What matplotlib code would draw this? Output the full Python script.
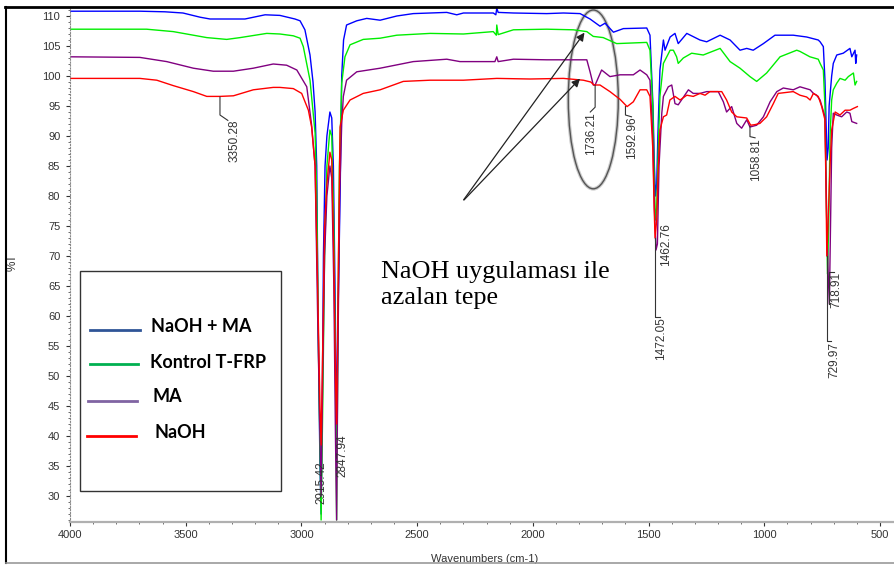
import numpy as np
import matplotlib.pyplot as plt
from matplotlib.patches import Ellipse, Rectangle
from matplotlib.lines import Line2D
from matplotlib.ticker import MultipleLocator

plt.rcParams['font.family'] = ['Liberation Sans', 'DejaVu Sans']

# FTIR spectra: (wavenumber cm-1, %T)
naoh_ma = np.array([
    (4000, 110.8), (3698, 110.8), (3590, 110.7), (3512, 110.5), (3438, 109.8), (3395, 109.5),
    (3244, 109.5), (3157, 110.2), (3093, 110.1), (3028, 109.5), (3006, 109.2), (2985, 107.7),
    (2963, 103.5), (2950, 99.0), (2941, 94.0), (2934, 85.0), (2928, 60.0), (2920, 35.0),
    (2915, 27.0), (2910, 45.0), (2905, 70.0), (2898, 85.0), (2890, 90.0), (2877, 94.0),
    (2869, 93.0), (2862, 85.0), (2855, 65.0), (2848, 41.0), (2842, 60.0), (2833, 80.0),
    (2826, 100.0), (2818, 106.0), (2805, 108.5), (2761, 109.2), (2718, 109.6), (2660, 109.3),
    (2588, 110.0), (2517, 110.4), (2444, 110.5), (2372, 110.6), (2329, 110.2), (2300, 110.5),
    (2171, 110.5), (2160, 110.2), (2156, 111.3), (2150, 110.6), (2084, 110.5), (1940, 110.4),
    (1868, 110.5), (1796, 110.4), (1753, 109.5), (1710, 108.3), (1688, 108.8), (1652, 107.3),
    (1609, 107.9), (1508, 108.0), (1494, 106.8), (1481, 95.0), (1475, 85.0), (1470, 80.0),
    (1465, 82.0), (1460, 90.0), (1451, 101.0), (1436, 106.0), (1429, 104.3), (1407, 106.5),
    (1386, 107.1), (1372, 105.4), (1335, 107.1), (1278, 106.0), (1249, 105.7), (1191, 106.8),
    (1148, 106.0), (1105, 104.3), (1076, 104.6), (1048, 104.3), (1004, 105.4), (954, 106.8),
    (875, 106.8), (817, 106.5), (767, 106.0), (759, 105.7), (745, 104.9), (738, 99.3),
    (733, 92.0), (729, 86.0), (724, 88.0), (720, 95.0), (709, 100.0), (702, 102.1),
    (687, 103.5), (659, 103.8), (630, 104.6), (622, 103.2), (608, 104.3), (605, 102.1),
    (601, 103.5),
])

kontrol = np.array([
    (4000, 107.8), (3669, 107.8), (3554, 107.4), (3496, 107.0), (3409, 106.4), (3323, 106.1),
    (3265, 106.4), (3150, 107.1), (3093, 107.0), (3035, 106.7), (3006, 106.3), (2992, 104.9),
    (2963, 99.3), (2941, 90.5), (2934, 80.0), (2925, 50.0), (2915, 26.0), (2908, 45.0),
    (2900, 70.0), (2890, 85.0), (2877, 91.0), (2869, 90.0), (2860, 75.0), (2853, 50.0),
    (2848, 26.0), (2842, 60.0), (2836, 85.0), (2826, 98.8), (2812, 103.2), (2790, 105.2),
    (2733, 106.1), (2660, 106.3), (2588, 106.8), (2444, 107.1), (2300, 107.0), (2171, 107.4),
    (2158, 106.8), (2156, 108.5), (2150, 106.9), (2084, 107.7), (1940, 107.8), (1825, 107.7),
    (1767, 107.4), (1739, 106.6), (1696, 106.4), (1638, 105.4), (1508, 105.6), (1494, 104.3),
    (1482, 95.0), (1475, 82.0), (1470, 76.0), (1465, 78.0), (1458, 88.0), (1451, 96.6),
    (1436, 102.1), (1407, 104.3), (1393, 104.3), (1379, 103.2), (1372, 102.1), (1350, 103.0),
    (1314, 103.8), (1264, 103.5), (1191, 104.6), (1148, 102.4), (1105, 101.3), (1062, 99.9),
    (1033, 99.1), (990, 100.5), (932, 103.2), (860, 104.3), (846, 104.1), (803, 103.2),
    (767, 102.8), (759, 102.1), (745, 101.0), (738, 95.0), (732, 80.0), (727, 67.0),
    (722, 75.0), (716, 90.0), (709, 96.0), (702, 97.7), (687, 98.8), (673, 99.6),
    (651, 99.3), (637, 99.9), (615, 100.5), (608, 98.5), (601, 99.1),
])

ma = np.array([
    (4000, 103.2), (3698, 103.1), (3582, 102.4), (3467, 101.3), (3381, 100.8), (3294, 100.8),
    (3208, 101.3), (3122, 102.0), (3064, 101.8), (3020, 101.0), (2977, 98.2), (2956, 91.8),
    (2941, 85.0), (2930, 60.0), (2920, 40.0), (2915, 30.0), (2908, 50.0), (2900, 70.0),
    (2890, 80.0), (2877, 85.0), (2869, 83.0), (2860, 65.0), (2853, 40.0), (2848, 26.0),
    (2842, 55.0), (2835, 80.0), (2826, 92.0), (2819, 96.6), (2805, 99.3), (2761, 100.7),
    (2660, 101.3), (2517, 102.4), (2372, 102.8), (2315, 102.4), (2164, 102.4), (2156, 103.2),
    (2150, 102.4), (2084, 102.8), (1940, 102.7), (1767, 102.7), (1753, 100.7), (1739, 98.5),
    (1731, 98.5), (1703, 101.0), (1667, 99.9), (1623, 100.2), (1566, 100.2), (1537, 101.0),
    (1508, 100.2), (1494, 99.3), (1482, 90.0), (1475, 78.0), (1468, 71.0), (1462, 72.0),
    (1455, 85.0), (1443, 93.8), (1436, 96.6), (1415, 98.2), (1400, 98.5), (1386, 95.4),
    (1372, 95.2), (1328, 97.7), (1307, 97.1), (1278, 97.1), (1249, 97.4), (1199, 97.4),
    (1177, 95.7), (1163, 94.0), (1141, 94.9), (1119, 92.1), (1098, 91.3), (1076, 92.7),
    (1062, 91.5), (1033, 91.8), (1004, 93.2), (975, 95.7), (946, 97.4), (918, 98.0),
    (875, 97.7), (846, 98.2), (802, 97.7), (788, 97.1), (774, 96.8), (759, 96.0),
    (738, 93.2), (730, 75.0), (725, 68.0), (719, 62.0), (714, 75.0), (709, 88.0),
    (702, 93.8), (687, 93.5), (666, 93.2), (644, 94.0), (630, 93.8), (622, 92.4),
    (601, 92.1),
])

naoh = np.array([
    (4000, 99.6), (3698, 99.6), (3625, 99.3), (3554, 98.4), (3467, 97.4), (3409, 96.6),
    (3352, 96.6), (3294, 96.7), (3208, 97.7), (3122, 98.1), (3093, 98.1), (3035, 97.9),
    (2999, 97.1), (2970, 94.3), (2956, 91.5), (2941, 85.0), (2930, 65.0), (2920, 45.0),
    (2915, 38.5), (2908, 55.0), (2900, 75.0), (2890, 82.0), (2877, 87.3), (2869, 86.0),
    (2860, 70.0), (2853, 50.0), (2848, 42.0), (2840, 70.0), (2833, 91.5), (2819, 94.3),
    (2790, 96.0), (2733, 97.1), (2660, 97.7), (2560, 99.1), (2444, 99.3), (2300, 99.3),
    (2156, 99.6), (2012, 99.5), (1868, 99.6), (1782, 99.3), (1750, 99.0), (1736, 98.5),
    (1710, 98.5), (1667, 97.4), (1623, 96.1), (1593, 94.9), (1566, 95.7), (1537, 97.7),
    (1508, 97.7), (1494, 96.6), (1482, 88.0), (1476, 78.0), (1472, 73.0), (1465, 76.0),
    (1458, 85.0), (1451, 91.0), (1436, 93.2), (1422, 93.5), (1408, 96.0), (1386, 96.6),
    (1364, 96.0), (1335, 96.8), (1307, 96.6), (1278, 97.1), (1256, 96.8), (1235, 97.4),
    (1184, 97.4), (1163, 96.0), (1141, 94.0), (1119, 93.2), (1076, 93.0), (1059, 91.8),
    (1040, 91.9), (1019, 92.1), (990, 93.2), (961, 95.4), (940, 97.1), (875, 97.4),
    (846, 96.8), (817, 96.5), (802, 96.0), (788, 97.1), (767, 96.6), (752, 94.9),
    (738, 92.7), (733, 80.0), (730, 70.0), (725, 75.0), (716, 85.0), (709, 91.0),
    (694, 94.0), (673, 93.5), (651, 94.3), (630, 94.3), (615, 94.6), (598, 94.9),
])

series_names = ["NaOH + MA", "Kontrol T-FRP", "MA", "NaOH"]
line_colors = ["#0000ff", "#00ee00", "#800080", "#ff0000"]
legend_colors = ["#2f5597", "#00b050", "#8064a2", "#ff0000"]

peak_labels = ["3350.28", "2915.42", "2847.94", "1736.21", "1592.96",
               "1472.05", "1462.76", "1058.81", "729.97", "718.91"]

W, H = 895, 565


def fx(x):
    return x / W


def fy(y):
    return 1 - y / H


fig = plt.figure(figsize=(W / 100, H / 100), dpi=100)
ax = fig.add_axes([fx(70), fy(522), (893 - 70) / W, (522 - 7) / H])

for data, c in zip([naoh_ma, kontrol, ma, naoh], line_colors):
    ax.plot(data[:, 0], data[:, 1], color=c, lw=1.0)

ax.set_xlim(4000, 444)
ax.set_ylim(25.67, 111.5)
ax.set_xticks(np.arange(4000, 499, -500))
ax.set_yticks(np.arange(30, 111, 5))
ax.xaxis.set_minor_locator(MultipleLocator(100))
ax.yaxis.set_minor_locator(MultipleLocator(1))
ax.tick_params(axis='both', which='major', labelsize=8, colors='#333333', length=3, width=0.8)
ax.tick_params(axis='y', pad=4)
ax.tick_params(axis='x', pad=3)
ax.tick_params(which='minor', length=1.5, width=0.6, colors='#555555')
for s in ['top', 'right']:
    ax.spines[s].set_visible(False)
ax.spines['left'].set_color('#888888')
ax.spines['left'].set_linestyle(':')
ax.spines['bottom'].set_color('#b0b0b0')
ax.spines['bottom'].set_linewidth(1.6)

ax.set_xlabel("Wavenumbers (cm-1)", fontsize=8, color='#333333')
ax.xaxis.set_label_coords(0.504, -0.062)
ax.set_ylabel("%T", fontsize=8.5, color='#333333')
ax.yaxis.set_label_coords(-0.063, 0.505)

# peak labels: text x, text top, leader path
peak_layout = [
    (3289, 92.8, [(3352, 96.5), (3352, 93.5), (3318, 92.6)]),
    (2913, 35.7, None),
    (2823, 40.2, None),
    (1748, 94.0, [(1731, 98.4), (1731, 94.8), (1752, 94.0)]),
    (1570, 93.2, [(1600, 94.9), (1600, 93.5), (1574, 93.2)]),
    (1446, 59.8, [(1472, 73.0), (1472, 59.8), (1450, 59.8)]),
    (1424, 75.5, None),
    (1035, 89.7, [(1062, 91.6), (1062, 89.9), (1040, 89.7)]),
    (697, 55.7, [(729, 70.0), (729, 55.8), (712, 55.8)]),
    (690, 67.4, [(719, 62.0), (719, 67.4), (700, 67.4)]),
]
for label, (tx, ty, path) in zip(peak_labels, peak_layout):
    if path:
        px_, py_ = zip(*path)
        ax.plot(px_, py_, color='#333333', lw=0.8)
    ax.text(tx, ty, label, rotation=90, ha='center', va='top', fontsize=8.5, color='#333333')

# ellipse + arrows marking the decreased peak
ax.add_patch(Ellipse((1739, 96.1), width=216, height=29.8, fill=False, edgecolor='#cccccc', lw=2.6))
ax.add_patch(Ellipse((1739, 96.1), width=216, height=29.8, fill=False, edgecolor='#555555', lw=1.0))
for tip in [(1770, 107.6), (1788, 99.9)]:
    ax.annotate('', xy=tip, xytext=(2306, 79.0),
                arrowprops=dict(arrowstyle='-|>', color='#222222', lw=0.9, mutation_scale=12))
ax.text(2656, 65.2, "NaOH uygulaması ile\nazalan tepe", family=['Liberation Serif', 'DejaVu Serif'],
        fontsize=18.8, ha='left', va='center', color='black')

# legend box drawn like the original
fig.add_artist(Rectangle((fx(80), fy(491)), (281 - 80) / W, (491 - 271) / H, transform=fig.transFigure,
                         facecolor='white', edgecolor='#333333', lw=1.0))
legend_rows = [(90, 140, 330, 151, 326), (90, 138, 364, 150, 362), (88, 137, 401, 153, 397), (87, 136, 436, 155, 433)]
for name, c, (x0, x1, ly, tx, ty) in zip(series_names, legend_colors, legend_rows):
    fig.add_artist(Line2D([fx(x0), fx(x1)], [fy(ly), fy(ly)], color=c, lw=2.0, transform=fig.transFigure))
    fig.text(fx(tx), fy(ty), name, family=['Lato', 'DejaVu Sans'], fontweight='bold', fontsize=13,
             ha='left', va='center', color='black')

# outer frame of the picture
fig.add_artist(Line2D([fx(5), fx(895)], [fy(7), fy(7)], color='black', lw=2.0, transform=fig.transFigure))
fig.add_artist(Line2D([fx(6), fx(6)], [fy(7), fy(563)], color='black', lw=1.5, transform=fig.transFigure))
fig.add_artist(Line2D([fx(6), fx(895)], [fy(563), fy(563)], color='#999999', lw=1.2, transform=fig.transFigure))

fig.savefig("out.png", dpi=100)
